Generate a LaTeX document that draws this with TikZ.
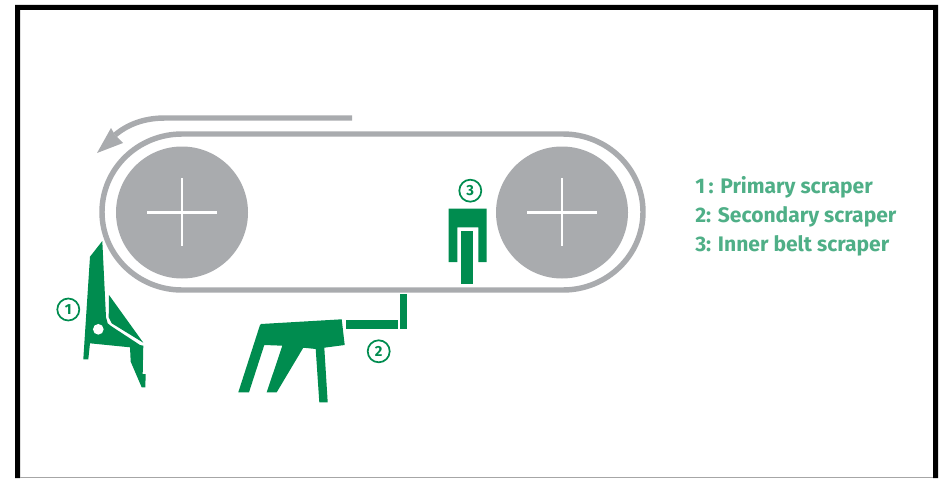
\documentclass[tikz,border=0pt]{standalone}
\usepackage{fontspec}
\setmainfont{Fira Sans}
\usetikzlibrary{positioning}
\definecolor{scrapergreen}{HTML}{008C4F}
\definecolor{labelgreen}{HTML}{4FAF87}
\definecolor{beltgray}{HTML}{A9ABAE}
\tikzset{
  part/.style={fill=scrapergreen, draw=none},
  belt/.style={draw=beltgray, line width=4.1pt},
  partnum/.style={circle, draw=scrapergreen, line width=1.3pt, text=scrapergreen, minimum size=16.5pt, inner sep=0pt, font=\fontsize{11}{11}\selectfont\bfseries},
  legend/.style={anchor=base west, text=labelgreen, inner sep=0pt, font=\fontsize{15.8}{17}\selectfont\bfseries}
}
\begin{document}
\begin{tikzpicture}[x=0.75pt, y=-0.75pt]
  \useasboundingbox (0,0) rectangle (941,478);
  % ---- frame, open at the bottom ----
  \fill[black] (15,478) -- (15,5) -- (938,5) -- (938,478) -- (933,478) -- (933,10) -- (20,10) -- (20,478) -- cycle;
  \draw[gray!70, line width=0.75pt] (20,477.5) -- (933,477.5);
  % ---- belt and direction arrow ----
  \draw[belt] (182,134) -- (563,134) arc[start angle=-90, end angle=90, x radius=80, y radius=78] -- (182,290) arc[start angle=90, end angle=270, x radius=80, y radius=78] -- cycle;
  \draw[belt] (352,118) -- (165,118) .. controls (143,118) and (127,125) .. (115,135);
  \fill[beltgray] (97,153) -- (111,128) -- (115,135) -- (123,143) -- cycle;
  % ---- pulleys ----
  \foreach \n/\x in {left/182, right/562} {
    \node[circle, fill=beltgray, minimum size=99pt, inner sep=0pt] (\n) at (\x,212.5) {};
    \draw[white, line width=2pt] (\x-35,212.5) -- (\x+35,212.5);
    \draw[white, line width=2pt] (\x,178) -- (\x,246);
  }
  % ---- primary scraper ----
  \fill[part] (102.3,241) -- (90,256.7) -- (83.3,359.3) -- (88.3,359.3) -- (90,343.3) -- (130,347.3) -- (130.7,361.7) -- (141.7,387.3) -- (145.3,387.3) -- (145.7,374) -- (142.7,374) -- (143.3,345.7) -- (140,345) -- (111,326) -- (107.7,323.3) -- (106,317.3) -- cycle;
  \fill[part] (109,295) -- (143.3,342.7) -- (111.7,323.3) -- (108.7,317.3) -- cycle;
  \fill[white] (98.3,329.3) circle[radius=4pt];
  \node[partnum] (one) at (68.3,309.5) {1};
  % ---- secondary scraper ----
  \fill[part] (260,325) -- (261,324) -- (341.7,319.3) -- (344.7,345) -- (324.3,347.7) -- (327.7,402.3) -- (319.3,402.3) -- (315.7,349) -- (303.3,347.7) -- (276.7,392.3) -- (266.7,392.3) -- (282.3,345.7) -- (264.3,345) -- (249,392.3) -- (238.3,392.3) -- cycle;
  \fill[part] (345.7,320) rectangle (397.7,329);
  \fill[part] (399.7,294) rectangle (407.3,329);
  \node[partnum] (two) at (378.7,351.3) {2};
  % ---- inner belt scraper ----
  \fill[part] (448.7,262) -- (448.7,208.7) -- (486.7,208.7) -- (486.7,262) -- (478.3,262) -- (478.3,227.3) -- (457.3,227.3) -- (457.3,262) -- cycle;
  \fill[part] (461.3,231.3) rectangle (473.3,284.3);
  \node[partnum] (three) at (470.3,190.7) {3};
  % ---- legend ----
  \foreach \n/\y/\t in {a/193/{1\,: Primary scraper}, b/222.5/{2: Secondary scraper}, c/251.5/{3: Inner belt scraper}} {
    \node[legend] (\n) at (695,\y) {\t};
  }
\end{tikzpicture}
\end{document}
